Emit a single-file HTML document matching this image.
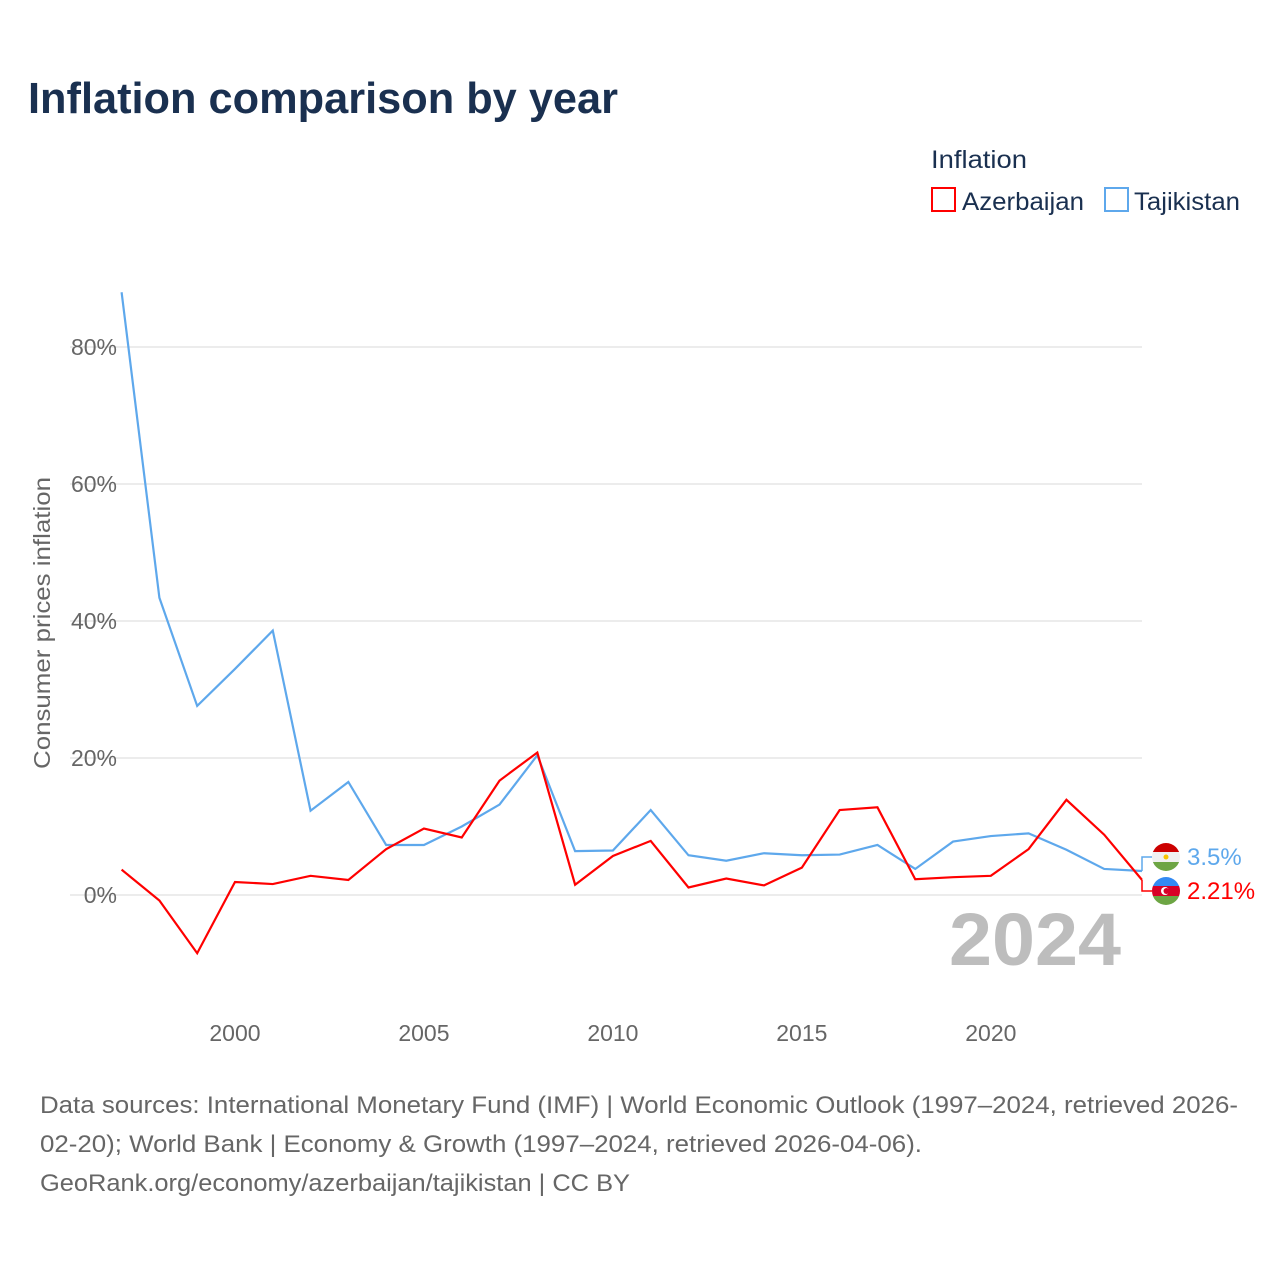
<!DOCTYPE html>
<html><head><meta charset="utf-8"><style>
html,body{margin:0;padding:0;background:#fff;width:1280px;height:1280px;overflow:hidden}
svg{display:block;font-family:"Liberation Sans",sans-serif}
</style></head><body>
<svg id="chart" width="1280" height="1280" viewBox="0 0 1280 1280">
<text x="28" y="113" font-size="44" font-weight="bold" fill="#1a3050" textLength="590" lengthAdjust="spacingAndGlyphs">Inflation comparison by year</text>
<g>
<text x="931" y="168" font-size="25" fill="#1a3050" textLength="96" lengthAdjust="spacingAndGlyphs">Inflation</text>
<g>
<rect x="932" y="188" width="23" height="23" fill="none" stroke="#ff0000" stroke-width="2"/>
<text x="962" y="210" font-size="25" fill="#1a3050" textLength="122" lengthAdjust="spacingAndGlyphs">Azerbaijan</text></g>
<g>
<rect x="1105" y="188" width="23" height="23" fill="none" stroke="#5ea8ec" stroke-width="2"/>
<text x="1134" y="210" font-size="25" fill="#1a3050" textLength="106" lengthAdjust="spacingAndGlyphs">Tajikistan</text></g>
</g>
<g id="grid"></g>
<g id="xticks"></g>
<text transform="translate(50,623) rotate(-90)" text-anchor="middle" font-size="23" fill="#666" textLength="292" lengthAdjust="spacingAndGlyphs">Consumer prices inflation</text>
<text x="1121" y="965" text-anchor="end" font-size="74" font-weight="bold" fill="#bdbdbd" textLength="172" lengthAdjust="spacingAndGlyphs">2024</text>
<g id="series"></g>
<g>
<path d="M1142 871 V857 H1152" fill="none" stroke="#5ea8ec" stroke-width="1.5"/>
<path d="M1142 880 V891 H1152" fill="none" stroke="#ff0000" stroke-width="1.5"/>
<g>
<clipPath id="c1"><circle cx="1166" cy="857" r="14"/></clipPath>
<g clip-path="url(#c1)"><rect x="1150" y="843" width="32" height="9" fill="#cc0000"/><rect x="1150" y="852" width="32" height="10" fill="#f0f0f0"/><rect x="1150" y="862" width="32" height="10" fill="#6da544"/><circle cx="1166" cy="857" r="2.5" fill="#f8c300"/></g></g>
<g>
<clipPath id="c2"><circle cx="1166" cy="891" r="14"/></clipPath>
<g clip-path="url(#c2)"><rect x="1150" y="877" width="32" height="9" fill="#338af3"/><rect x="1150" y="886" width="32" height="10" fill="#d80027"/><rect x="1150" y="896" width="32" height="10" fill="#6da544"/><circle cx="1165" cy="891" r="4" fill="#fff"/><circle cx="1166.5" cy="891" r="3" fill="#d80027"/></g></g>
<text x="1187" y="865" font-size="24" fill="#5ea8ec">3.5%</text>
<text x="1187" y="899" font-size="24" fill="#ff0000">2.21%</text>
</g>
<g font-size="24" fill="#666">
<text x="40" y="1113" textLength="1198" lengthAdjust="spacingAndGlyphs">Data sources: International Monetary Fund (IMF) | World Economic Outlook (1997–2024, retrieved 2026-</text>
<text x="40" y="1152" textLength="882" lengthAdjust="spacingAndGlyphs">02-20); World Bank | Economy &amp; Growth (1997–2024, retrieved 2026-04-06).</text>
<text x="40" y="1191" textLength="590" lengthAdjust="spacingAndGlyphs">GeoRank.org/economy/azerbaijan/tajikistan | CC BY</text>
</g>
</svg>
<script>
const years=[1997,1998,1999,2000,2001,2002,2003,2004,2005,2006,2007,2008,2009,2010,2011,2012,2013,2014,2015,2016,2017,2018,2019,2020,2021,2022,2023,2024];
const azerbaijan=[3.7,-0.8,-8.5,1.9,1.6,2.8,2.2,6.7,9.7,8.4,16.7,20.8,1.5,5.7,7.9,1.1,2.4,1.4,4.0,12.4,12.8,2.3,2.6,2.8,6.7,13.9,8.8,2.21];
const tajikistan=[88,43.4,27.6,33,38.6,12.3,16.5,7.3,7.3,10,13.2,20.4,6.4,6.5,12.4,5.8,5.0,6.1,5.8,5.9,7.3,3.8,7.8,8.6,9.0,6.6,3.8,3.5];
const yTicks=[0,20,40,60,80];
const xTicks=[2000,2005,2010,2015,2020];
const NS="http://www.w3.org/2000/svg";
const X=y=>121.6+(y-1997)*(1142-121.6)/27;
const Y=v=>895-v*6.85;
function mk(t,a,p){const e=document.createElementNS(NS,t);for(const k in a)e.setAttribute(k,a[k]);p.appendChild(e);return e;}
const grid=document.getElementById('grid');
yTicks.forEach(v=>{
 const l=mk('line',{x1:70,x2:1142,y1:Y(v),y2:Y(v),stroke:'#e6e6e6','stroke-width':1.5},grid);
 
 
 const t=mk('text',{x:117,y:Y(v)+8,'text-anchor':'end','font-size':23,fill:'#666'},grid);
 t.textContent=v+'%';
 
 
});
const xt=document.getElementById('xticks');
xTicks.forEach(v=>{
 const t=mk('text',{x:X(v),y:1041,'text-anchor':'middle','font-size':23,fill:'#666'},xt);
 t.textContent=v;
 
 
});
const sg=document.getElementById('series');
[[tajikistan,'#5ea8ec','tajikistan-line'],[azerbaijan,'#ff0000','azerbaijan-line']].forEach(([d,c,n])=>{
 const p=mk('polyline',{points:d.map((v,i)=>X(years[i])+','+Y(v)).join(' '),fill:'none',stroke:c,'stroke-width':2.2,'stroke-linejoin':'miter'},sg);
 
 
});
</script>
</body></html>
